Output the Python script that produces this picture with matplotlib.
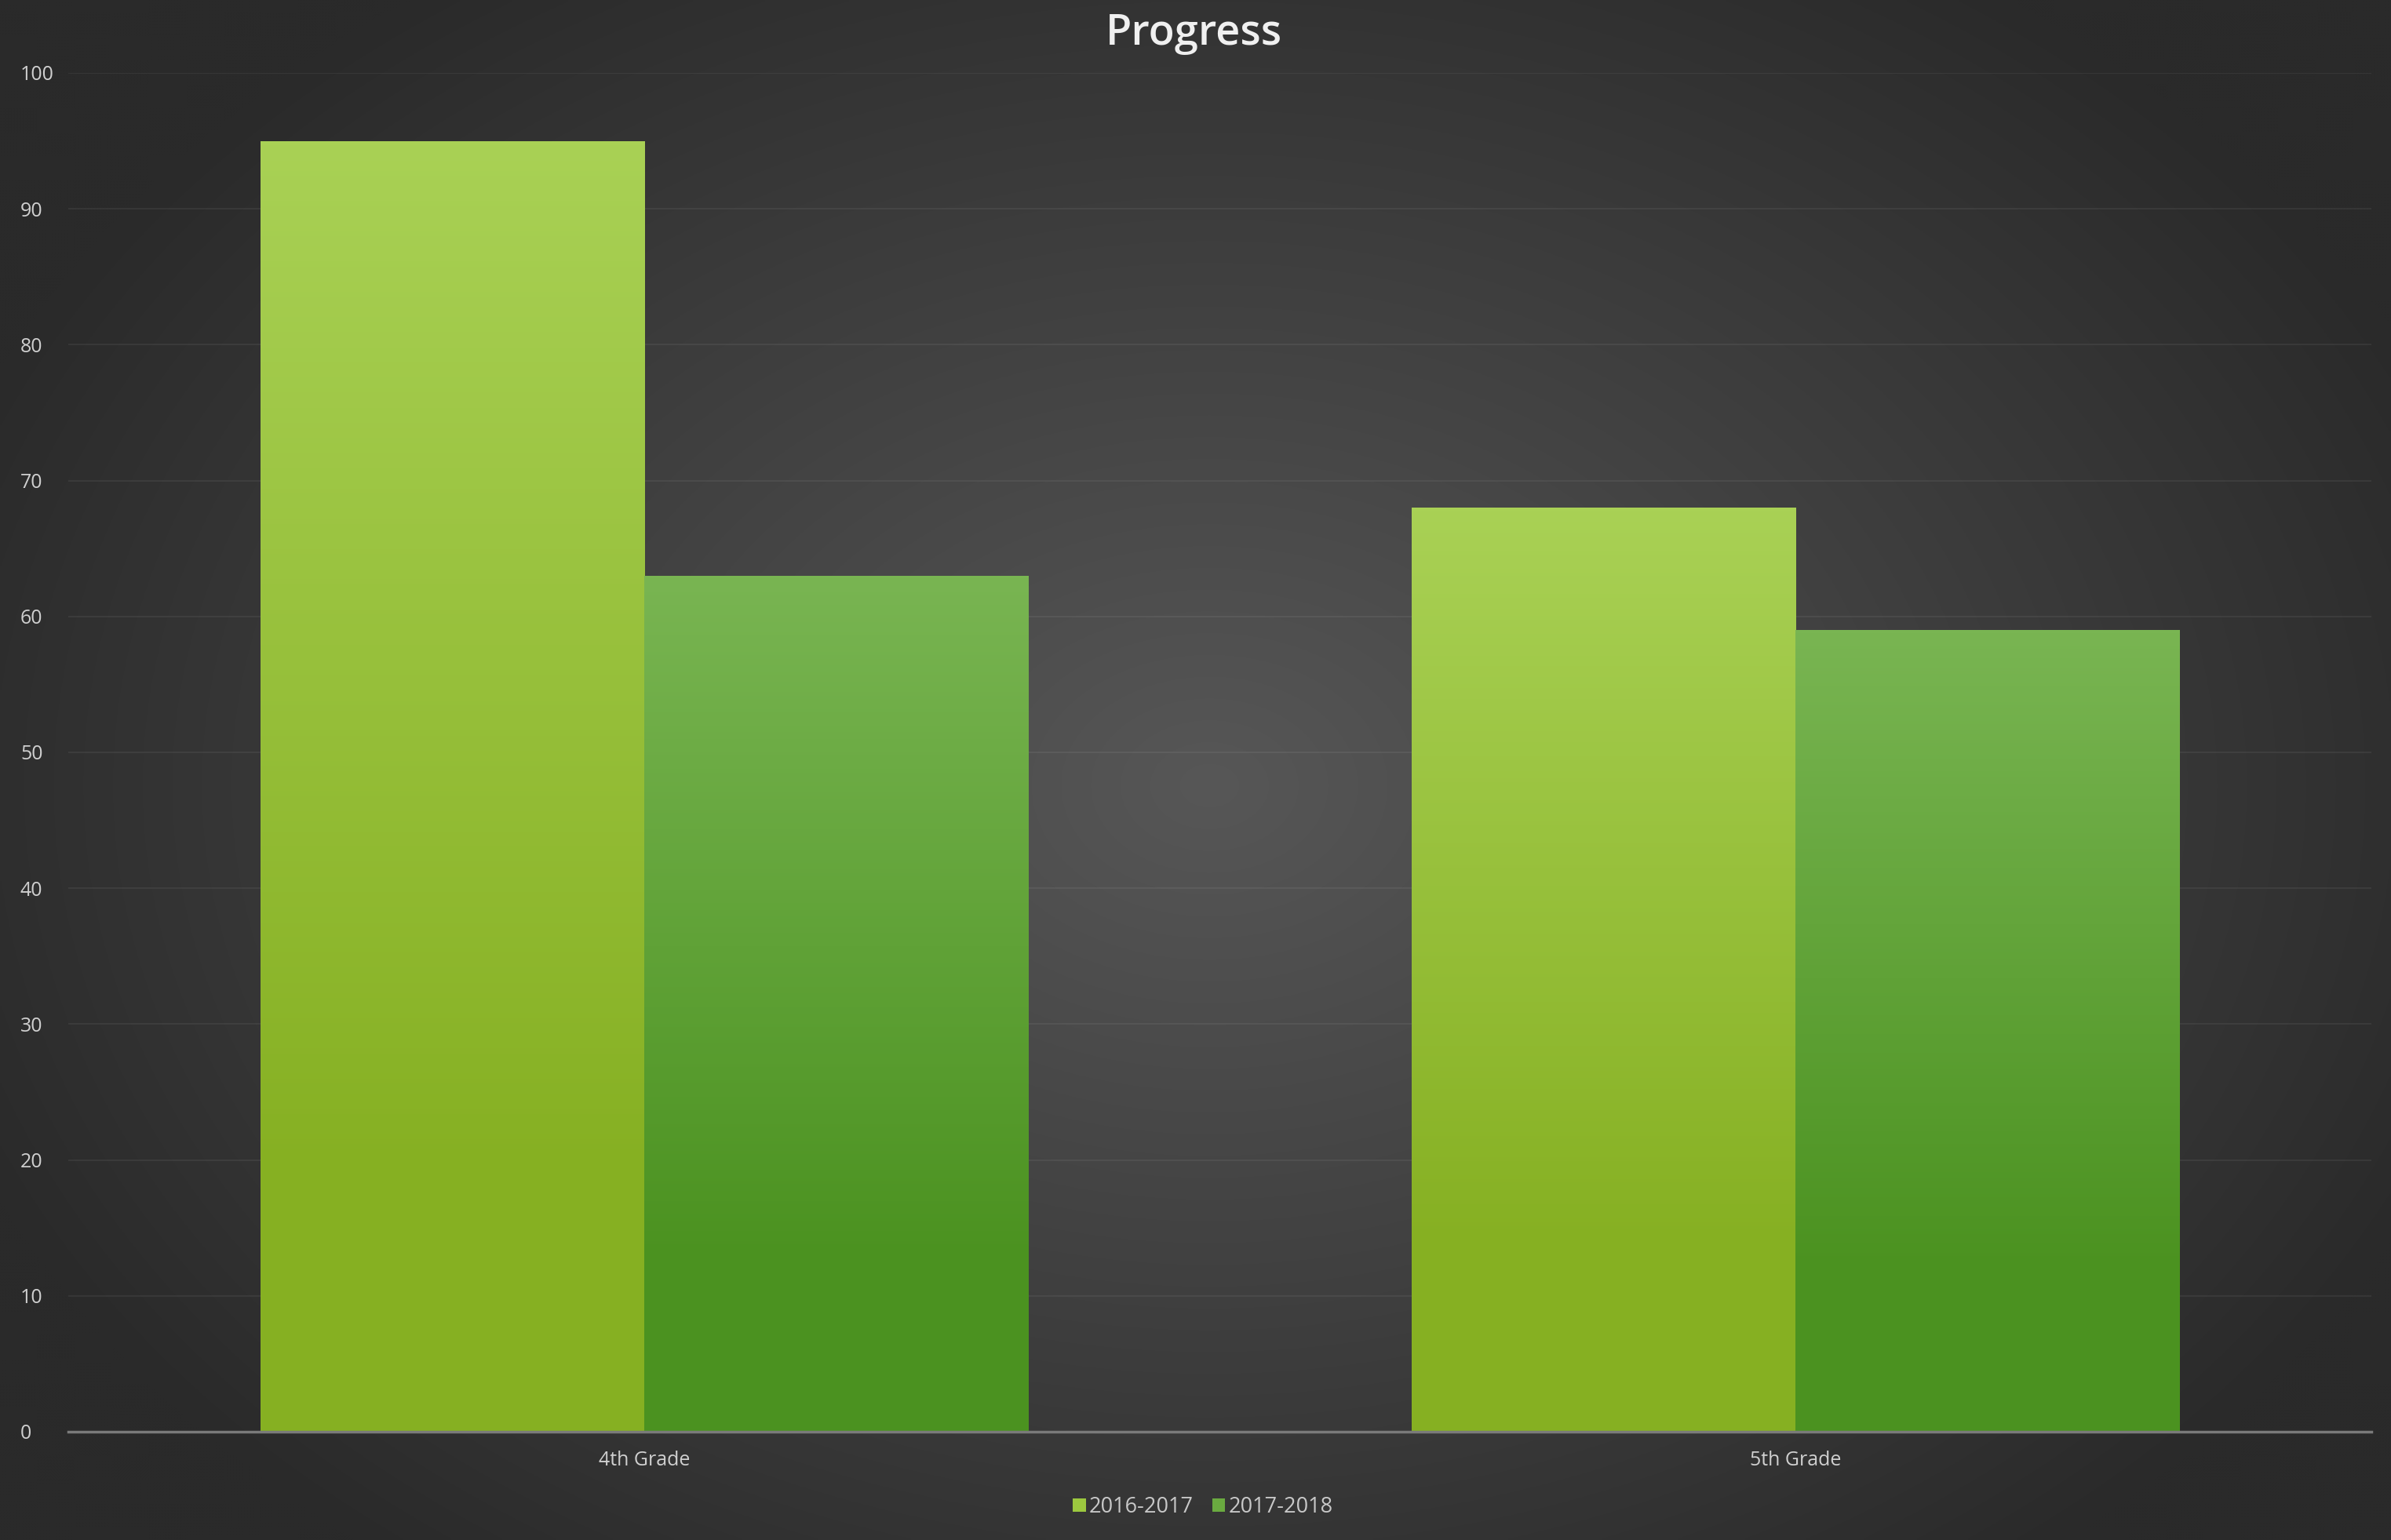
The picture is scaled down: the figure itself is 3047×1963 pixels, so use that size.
import numpy as np
import matplotlib.pyplot as plt
from matplotlib.colors import to_rgb

categories = ["4th Grade", "5th Grade"]
series = ["2016-2017", "2017-2018"]
values_2016 = [95, 68]
values_2017 = [63, 59]
yticks = [0, 10, 20, 30, 40, 50, 60, 70, 80, 90, 100]

top_colors = ["#a9d155", "#79b552"]
bottom_colors = ["#86b022", "#4b9220"]
legend_colors = ["#9cc83f", "#6aaa40"]

plt.rcParams['font.family'] = ['Open Sans', 'DejaVu Sans']

W, H = 3047, 1963
fig = plt.figure(figsize=(W / 100, H / 100), dpi=100)

# radial gradient background
bg = fig.add_axes([0, 0, 1, 1], zorder=-5)
yy, xx = np.mgrid[0:H:4, 0:W:4]
r = np.sqrt(((xx - 1540) / 1700.0) ** 2 + ((yy - 1000) / 1250.0) ** 2)
r = np.clip(r, 0, 1)
c0, c1 = np.array(to_rgb("#575757")), np.array(to_rgb("#2a2a2a"))
img = c0 * (1 - r[..., None]) + c1 * r[..., None]
bg.imshow(img, aspect='auto', extent=[0, 1, 0, 1], interpolation='bilinear')
bg.axis('off')

ax = fig.add_axes([87 / W, 1 - 1825 / H, (3022 - 87) / W, (1825 - 93) / H])
ax.set_facecolor('none')

x = np.arange(len(categories))
w = 1 / 3
b1 = ax.bar(x - w / 2, values_2016, w, color=legend_colors[0], label=series[0], zorder=2)
b2 = ax.bar(x + w / 2, values_2017, w, color=legend_colors[1], label=series[1], zorder=2)

# vertical gradient fill on each bar
t = np.linspace(0, 1, 256)
blend = np.clip(t / 0.8, 0, 1)[:, None, None]
for bars, ct, cb in zip([b1, b2], top_colors, bottom_colors):
    grad = np.array(to_rgb(ct)) * (1 - blend) + np.array(to_rgb(cb)) * blend
    for p in bars:
        x0, y0 = p.get_x(), p.get_y()
        im = ax.imshow(grad, aspect='auto', origin='upper', zorder=3,
                       extent=[x0, x0 + p.get_width(), y0, y0 + p.get_height()])
        im.set_clip_path(p)

ax.set_xlim(-0.5, 1.5)
ax.set_ylim(0, 100)
ax.set_yticks(yticks)
ax.set_xticks(x)
ax.set_xticklabels(categories)
ax.yaxis.grid(True, color='white', alpha=0.06, linewidth=1.5, zorder=0)
ax.set_axisbelow(True)
for s in ['top', 'right', 'left']:
    ax.spines[s].set_visible(False)
ax.spines['bottom'].set_color('#7a7a7a')
ax.spines['bottom'].set_linewidth(2.5)
ax.spines['bottom'].set_zorder(4)
ax.tick_params(axis='both', length=0, colors='#d0d0d0', labelsize=18)
ax.tick_params(axis='y', pad=44)
ax.tick_params(axis='x', pad=17)
for lbl in ax.get_yticklabels():
    lbl.set_ha('left')

ax.set_title("Progress", fontsize=39, fontweight='semibold', color='#f0f0f0', pad=26,
             x=(1521 - 87) / (3022 - 87))

leg = fig.legend(handles=[b1, b2], labels=series, loc='center', bbox_to_anchor=(1533 / W, 1 - 1921 / H),
                 ncol=2, frameon=False, fontsize=19.5, labelcolor='#c8c8c8',
                 handlelength=0.6, handleheight=0.6, handletextpad=0.15, columnspacing=0.9)

fig.savefig("out.png", dpi=100)
